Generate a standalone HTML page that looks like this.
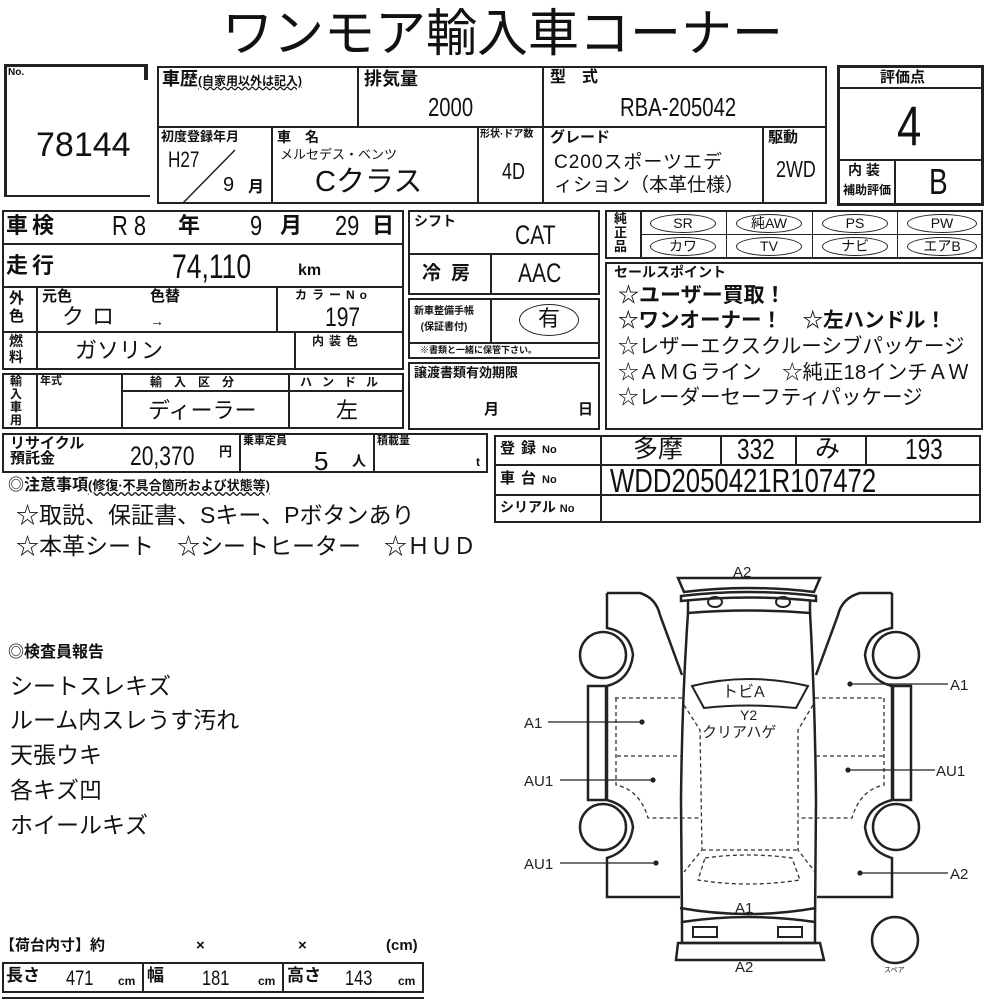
<!DOCTYPE html>
<html><head><meta charset="utf-8"><style>
*{margin:0;padding:0;box-sizing:border-box}
body{width:1000px;height:1000px;background:#fff;position:relative;overflow:hidden;font-family:"Liberation Sans","Noto Sans CJK JP",sans-serif;color:#111}
.b{position:absolute;border:2px solid #222}
.l{position:absolute;background:#222}
.t{position:absolute;white-space:nowrap;line-height:1}
.bd{font-weight:bold}
.n{transform:scaleX(.78);transform-origin:left top}
.ov{position:absolute;border:1.5px solid #222;border-radius:50%;text-align:center;font-size:14px;line-height:17px}
</style></head><body>
<div class="t" style="left:222px;top:8px;font-size:51px">ワンモア輸入車コーナー</div>

<!-- No bracket -->
<div class="l" style="left:4px;top:64px;width:3px;height:133px"></div>
<div class="l" style="left:4px;top:64px;width:144px;height:3px"></div>
<div class="l" style="left:144px;top:64px;width:4px;height:16px"></div>
<div class="l" style="left:4px;top:195px;width:146px;height:2px"></div>
<div class="t bd" style="left:8px;top:68px;font-size:10px">No.</div>
<div class="t" style="left:36px;top:128px;font-size:34px">78144</div>

<!-- top table -->
<div class="b" style="left:157px;top:66px;width:670px;height:62px"></div>
<div class="b" style="left:157px;top:126px;width:670px;height:78px"></div>
<div class="l" style="left:357px;top:66px;width:2px;height:60px"></div>
<div class="l" style="left:542px;top:66px;width:2px;height:138px"></div>
<div class="l" style="left:271px;top:126px;width:2px;height:78px"></div>
<div class="l" style="left:477px;top:126px;width:2px;height:78px"></div>
<div class="l" style="left:762px;top:126px;width:2px;height:78px"></div>
<div class="t bd" style="left:162px;top:70px;font-size:18px">車歴<span style="font-size:12px;text-decoration:underline wavy">(自家用以外は記入)</span></div>
<div class="t bd" style="left:364px;top:70px;font-size:18px">排気量</div>
<div class="t n" style="left:428px;top:94px;font-size:26px">2000</div>
<div class="t bd" style="left:550px;top:70px;font-size:16px">型　式</div>
<div class="t n" style="left:620px;top:94px;font-size:26px">RBA-205042</div>
<div class="t bd" style="left:161px;top:130px;font-size:13px">初度登録年月</div>
<div class="t n" style="left:168px;top:149px;font-size:22px">H27</div>
<svg style="position:absolute;left:180px;top:148px" width="60" height="56"><line x1="55" y1="2" x2="3" y2="55" stroke="#222" stroke-width="1.5"/></svg>
<div class="t" style="left:223px;top:175px;font-size:20px">9</div>
<div class="t bd" style="left:248px;top:180px;font-size:16px">月</div>
<div class="t bd" style="left:277px;top:130px;font-size:14px">車　名</div>
<div class="t" style="left:280px;top:148px;font-size:13px">メルセデス・ベンツ</div>
<div class="t" style="left:315px;top:168px;font-size:29px">Cクラス</div>
<div class="t bd" style="left:480px;top:130px;font-size:10px">形状·ドア数</div>
<div class="t n" style="left:502px;top:160px;font-size:23px">4D</div>
<div class="t bd" style="left:550px;top:130px;font-size:15px">グレード</div>
<div class="t" style="left:554px;top:153px;font-size:19px;letter-spacing:1px">C200スポーツエデ</div>
<div class="t" style="left:554px;top:176px;font-size:19px">ィション（本革仕様）</div>
<div class="t bd" style="left:768px;top:130px;font-size:15px">駆動</div>
<div class="t n" style="left:776px;top:158px;font-size:23px">2WD</div>

<!-- score -->
<div class="b" style="left:837px;top:65px;width:147px;height:141px;border-width:3px"></div>
<div class="l" style="left:837px;top:87px;width:147px;height:2px"></div>
<div class="l" style="left:837px;top:159px;width:147px;height:2px"></div>
<div class="l" style="left:894px;top:159px;width:2px;height:46px"></div>
<div class="t bd" style="left:880px;top:70px;font-size:15px">評価点</div>
<div class="t n" style="left:897px;top:98px;font-size:56px">4</div>
<div class="t bd" style="left:848px;top:163px;font-size:14px">内 装</div>
<div class="t bd" style="left:843px;top:184px;font-size:12px">補助評価</div>
<div class="t n" style="left:929px;top:164px;font-size:36px">B</div>

<!-- left table -->
<div class="b" style="left:2px;top:210px;width:402px;height:35px"></div>
<div class="t bd" style="left:6px;top:215px;font-size:22px;letter-spacing:4px">車検</div>
<div class="t n" style="left:112px;top:212px;font-size:28px">R 8</div>
<div class="t bd" style="left:178px;top:215px;font-size:22px">年</div>
<div class="t n" style="left:250px;top:212px;font-size:28px">9</div>
<div class="t bd" style="left:280px;top:215px;font-size:22px">月</div>
<div class="t n" style="left:335px;top:212px;font-size:28px">29</div>
<div class="t bd" style="left:372px;top:215px;font-size:22px">日</div>
<div class="b" style="left:2px;top:243px;width:402px;height:45px"></div>
<div class="t bd" style="left:6px;top:255px;font-size:22px;letter-spacing:4px">走行</div>
<div class="t n" style="left:172px;top:250px;font-size:34px">74,110</div>
<div class="t bd" style="left:298px;top:263px;font-size:16px">km</div>
<div class="b" style="left:2px;top:286px;width:402px;height:47px"></div>
<div class="l" style="left:36px;top:286px;width:2px;height:84px"></div>
<div class="l" style="left:276px;top:286px;width:2px;height:47px"></div>
<div class="t bd" style="left:9px;top:290px;font-size:15px;line-height:18px;width:18px">外<br>色</div>
<div class="t bd" style="left:42px;top:289px;font-size:15px">元色</div>
<div class="t bd" style="left:150px;top:289px;font-size:15px">色替</div>
<div class="t" style="left:62px;top:306px;font-size:22px;letter-spacing:8px">クロ</div>
<div class="t" style="left:150px;top:314px;font-size:14px">→</div>
<div class="t bd" style="left:295px;top:289px;font-size:12px;letter-spacing:5px">カラーNo</div>
<div class="t n" style="left:325px;top:304px;font-size:27px">197</div>
<div class="b" style="left:2px;top:331px;width:402px;height:39px"></div>
<div class="l" style="left:294px;top:331px;width:2px;height:39px"></div>
<div class="t bd" style="left:9px;top:333px;font-size:14px;line-height:16px">燃<br>料</div>
<div class="t" style="left:75px;top:340px;font-size:22px">ガソリン</div>
<div class="t bd" style="left:312px;top:335px;font-size:12px;letter-spacing:5px">内装色</div>
<div class="b" style="left:2px;top:373px;width:402px;height:56px"></div>
<div class="l" style="left:36px;top:373px;width:2px;height:56px"></div>
<div class="l" style="left:121px;top:373px;width:2px;height:56px"></div>
<div class="l" style="left:288px;top:373px;width:2px;height:56px"></div>
<div class="l" style="left:121px;top:390px;width:283px;height:2px"></div>
<div class="t bd" style="left:10px;top:375px;font-size:12px;line-height:13px">輸<br>入<br>車<br>用</div>
<div class="t bd" style="left:40px;top:376px;font-size:11px">年式</div>
<div class="t bd" style="left:150px;top:376px;font-size:12px;letter-spacing:12px">輸入区分</div>
<div class="t bd" style="left:300px;top:376px;font-size:12px;letter-spacing:10px">ハンドル</div>
<div class="t" style="left:148px;top:400px;font-size:22px">ディーラー</div>
<div class="t" style="left:336px;top:400px;font-size:22px">左</div>
<div class="b" style="left:2px;top:433px;width:486px;height:40px"></div>
<div class="l" style="left:239px;top:433px;width:2px;height:40px"></div>
<div class="l" style="left:373px;top:433px;width:2px;height:40px"></div>
<div class="t bd" style="left:10px;top:436px;font-size:15px;line-height:15px">リサイクル<br>預託金</div>
<div class="t n" style="left:130px;top:443px;font-size:27px">20,370</div>
<div class="t bd" style="left:219px;top:445px;font-size:13px">円</div>
<div class="t bd" style="left:243px;top:436px;font-size:11px">乗車定員</div>
<div class="t" style="left:314px;top:448px;font-size:26px">5</div>
<div class="t bd" style="left:352px;top:454px;font-size:14px">人</div>
<div class="t bd" style="left:377px;top:436px;font-size:11px">積載量</div>
<div class="t bd" style="left:476px;top:456px;font-size:12px">t</div>

<!-- middle column -->
<div class="b" style="left:408px;top:210px;width:192px;height:45px"></div>
<div class="t bd" style="left:414px;top:214px;font-size:14px">シフト</div>
<div class="t n" style="left:515px;top:222px;font-size:27px">CAT</div>
<div class="b" style="left:408px;top:253px;width:192px;height:42px"></div>
<div class="l" style="left:490px;top:253px;width:2px;height:42px"></div>
<div class="t bd" style="left:422px;top:264px;font-size:19px;letter-spacing:10px">冷房</div>
<div class="t n" style="left:518px;top:260px;font-size:27px">AAC</div>
<div class="b" style="left:408px;top:298px;width:192px;height:61px"></div>
<div class="l" style="left:490px;top:298px;width:2px;height:45px"></div>
<div class="l" style="left:408px;top:342px;width:192px;height:2px"></div>
<div class="t bd" style="left:414px;top:304px;font-size:10px;line-height:16px;text-align:center">新車整備手帳<br>(保証書付)</div>
<div class="ov" style="left:519px;top:304px;width:60px;height:32px;font-size:22px;line-height:28px">有</div>
<div class="t bd" style="left:420px;top:346px;font-size:9px">※書類と一緒に保管下さい。</div>
<div class="b" style="left:408px;top:362px;width:192px;height:68px"></div>
<div class="t bd" style="left:414px;top:366px;font-size:13px">譲渡書類有効期限</div>
<div class="t bd" style="left:484px;top:402px;font-size:15px">月</div>
<div class="t bd" style="left:578px;top:402px;font-size:15px">日</div>

<!-- options -->
<div class="b" style="left:605px;top:210px;width:378px;height:49px"></div>
<div class="l" style="left:640px;top:210px;width:2px;height:49px"></div>
<div class="l" style="left:640px;top:234px;width:343px;height:1px"></div>
<div class="l" style="left:726px;top:210px;width:1px;height:49px"></div>
<div class="l" style="left:812px;top:210px;width:1px;height:49px"></div>
<div class="l" style="left:897px;top:210px;width:1px;height:49px"></div>
<div class="t bd" style="left:614px;top:212px;font-size:13px;line-height:14px">純<br>正<br>品</div>
<div class="ov" style="left:650px;top:214px;width:66px;height:19px">SR</div>
<div class="ov" style="left:736px;top:214px;width:66px;height:19px">純AW</div>
<div class="ov" style="left:822px;top:214px;width:66px;height:19px">PS</div>
<div class="ov" style="left:907px;top:214px;width:70px;height:19px">PW</div>
<div class="ov" style="left:650px;top:237px;width:66px;height:19px">カワ</div>
<div class="ov" style="left:736px;top:237px;width:66px;height:19px">TV</div>
<div class="ov" style="left:822px;top:237px;width:66px;height:19px">ナビ</div>
<div class="ov" style="left:907px;top:237px;width:70px;height:19px">エアB</div>
<div class="b" style="left:605px;top:262px;width:378px;height:168px"></div>
<div class="t bd" style="left:614px;top:265px;font-size:14px">セールスポイント</div>
<div class="t bd" style="left:618px;top:285px;font-size:21px">☆ユーザー買取！</div>
<div class="t bd" style="left:618px;top:311px;font-size:20.5px">☆ワンオーナー！　☆左ハンドル！</div>
<div class="t" style="left:618px;top:337px;font-size:20.5px">☆レザーエクスクルーシブパッケージ</div>
<div class="t" style="left:618px;top:363px;font-size:20.5px">☆ＡＭＧライン　☆純正18インチＡＷ</div>
<div class="t" style="left:618px;top:388px;font-size:20.5px">☆レーダーセーフティパッケージ</div>

<!-- registration -->
<div class="b" style="left:494px;top:435px;width:487px;height:88px"></div>
<div class="l" style="left:494px;top:464px;width:487px;height:2px"></div>
<div class="l" style="left:494px;top:494px;width:487px;height:2px"></div>
<div class="l" style="left:600px;top:435px;width:2px;height:88px"></div>
<div class="l" style="left:720px;top:435px;width:2px;height:30px"></div>
<div class="l" style="left:795px;top:435px;width:2px;height:30px"></div>
<div class="l" style="left:865px;top:435px;width:2px;height:30px"></div>
<div class="t bd" style="left:500px;top:441px;font-size:15px;letter-spacing:6px">登録<span style="font-size:11px;letter-spacing:0">No</span></div>
<div class="t bd" style="left:500px;top:471px;font-size:15px;letter-spacing:6px">車台<span style="font-size:11px;letter-spacing:0">No</span></div>
<div class="t bd" style="left:500px;top:500px;font-size:14px">シリアル <span style="font-size:11px">No</span></div>
<div class="t" style="left:633px;top:437px;font-size:25px">多摩</div>
<div class="t n" style="left:737px;top:436px;font-size:29px">332</div>
<div class="t" style="left:815px;top:437px;font-size:25px">み</div>
<div class="t n" style="left:905px;top:436px;font-size:29px">193</div>
<div class="t n" style="left:610px;top:464px;font-size:33px">WDD2050421R107472</div>

<!-- notes -->
<div class="t bd" style="left:8px;top:478px;font-size:16px">◎注意事項<span style="font-size:13px;text-decoration:underline wavy">(修復·不具合箇所および状態等)</span></div>
<div class="t" style="left:16px;top:504px;font-size:23px">☆取説、保証書、Sキー、Pボタンあり</div>
<div class="t" style="left:16px;top:535px;font-size:23px">☆本革シート　☆シートヒーター　☆ＨＵＤ</div>
<div class="t bd" style="left:8px;top:645px;font-size:16px">◎検査員報告</div>
<div class="t" style="left:10px;top:675px;font-size:23px">シートスレキズ</div>
<div class="t" style="left:10px;top:709px;font-size:23px">ルーム内スレうす汚れ</div>
<div class="t" style="left:10px;top:744px;font-size:23px">天張ウキ</div>
<div class="t" style="left:10px;top:779px;font-size:23px">各キズ凹</div>
<div class="t" style="left:10px;top:814px;font-size:23px">ホイールキズ</div>

<!-- bottom -->
<div class="t bd" style="left:0px;top:938px;font-size:15px">【荷台内寸】約</div>
<div class="t bd" style="left:196px;top:938px;font-size:15px">×</div>
<div class="t bd" style="left:298px;top:938px;font-size:15px">×</div>
<div class="t bd" style="left:386px;top:938px;font-size:15px">(cm)</div>
<div class="b" style="left:2px;top:962px;width:422px;height:31px"></div>
<div class="l" style="left:142px;top:962px;width:2px;height:31px"></div>
<div class="l" style="left:282px;top:962px;width:2px;height:31px"></div>
<div class="t bd" style="left:6px;top:967px;font-size:17px">長さ</div>
<div class="t n" style="left:66px;top:968px;font-size:21px">471</div>
<div class="t bd" style="left:118px;top:975px;font-size:12px">cm</div>
<div class="t bd" style="left:147px;top:967px;font-size:17px">幅</div>
<div class="t n" style="left:202px;top:968px;font-size:21px">181</div>
<div class="t bd" style="left:258px;top:975px;font-size:12px">cm</div>
<div class="t bd" style="left:287px;top:967px;font-size:17px">高さ</div>
<div class="t n" style="left:345px;top:968px;font-size:21px">143</div>
<div class="t bd" style="left:398px;top:975px;font-size:12px">cm</div>
<div class="l" style="left:2px;top:997px;width:422px;height:2px"></div>

<!-- car diagram -->
<svg style="position:absolute;left:0;top:0" width="1000" height="1000" font-family="Liberation Sans, Noto Sans CJK JP, sans-serif">
<g fill="none" stroke="#222" stroke-width="2.5">
<path d="M678 578 L820 578 L814 592 Q748 584 684 592 Z"/>
<path d="M681 596 Q748 588 816 596 L816 601 Q748 594 681 601 Z"/>
<path d="M688 600 L688 613 Q748 608 810 613 L810 600"/>
<path d="M688 613 Q682 700 681 800 L682 922 Q748 912 815 922 L816 800 Q815 700 810 613"/>
<path d="M682 922 L682 943 L815 943 L815 922"/>
<path d="M678 943 L820 943 L824 960 L676 960 Z"/>
<path d="M680 908 Q748 920 816 908"/>
<path d="M607 593 L640 593 Q656 598 660 615 L682 675 M607 593 L607 628 Q630 632 633 655 Q630 680 607 686 M607 686 L607 800 M607 800 Q630 806 633 827 Q630 851 607 858 L607 897 L680 897"/>
<rect x="588" y="686" width="18" height="114"/>
<circle cx="603" cy="655" r="23"/><circle cx="603" cy="827" r="23"/>
<path d="M892 593 L860 593 Q842 598 838 615 L816 675 M892 593 L892 628 Q868 632 865 655 Q868 680 892 686 M892 686 L892 800 M892 800 Q868 806 865 827 Q868 851 892 858 L892 897 L817 897"/>
<rect x="893" y="686" width="18" height="114"/>
<circle cx="896" cy="655" r="23"/><circle cx="896" cy="827" r="23"/>
<circle cx="895" cy="940" r="23"/>
</g>
<g fill="none" stroke="#222" stroke-width="2">
<ellipse cx="715" cy="602" rx="7" ry="5"/><ellipse cx="783" cy="602" rx="7" ry="5"/>
<path d="M692 686 Q748 672 808 686 L796 708 Q748 703 704 708 Z"/>
<rect x="693" y="927" width="24" height="10"/><rect x="778" y="927" width="24" height="10"/>
</g>
<g fill="none" stroke="#333" stroke-width="1.3" stroke-dasharray="4 3">
<path d="M615 698 L682 698 M616 698 L616 785 Q640 790 648 818 L700 818 M617 756 L682 756"/>
<path d="M882 698 L815 698 M884 698 L884 785 Q860 790 852 818 L798 818 M883 756 L815 756"/>
<path d="M684 705 L700 730 L702 850 L684 872 M813 705 L798 730 L798 850 L815 872"/>
<path d="M702 850 L798 850 M705 858 Q748 852 792 858 L800 880 Q748 888 698 880 Z"/>
</g>
<g stroke="#222" stroke-width="1.2" fill="#222">
<line x1="548" y1="722" x2="642" y2="722"/><circle cx="642" cy="722" r="2"/>
<line x1="560" y1="780" x2="653" y2="780"/><circle cx="653" cy="780" r="2"/>
<line x1="560" y1="863" x2="656" y2="863"/><circle cx="656" cy="863" r="2"/>
<line x1="850" y1="684" x2="948" y2="684"/><circle cx="850" cy="684" r="2"/>
<line x1="848" y1="770" x2="935" y2="770"/><circle cx="848" cy="770" r="2"/>
<line x1="860" y1="873" x2="948" y2="873"/><circle cx="860" cy="873" r="2"/>
</g>
<g font-size="15" fill="#222">
<text x="733" y="577">A2</text>
<text x="950" y="690">A1</text>
<text x="524" y="728">A1</text>
<text x="524" y="786">AU1</text>
<text x="936" y="776">AU1</text>
<text x="524" y="869">AU1</text>
<text x="950" y="879">A2</text>
<text x="735" y="913">A1</text>
<text x="735" y="972">A2</text>
<text x="722" y="697" font-size="16">トビA</text>
<text x="740" y="720" font-size="14">Y2</text>
<text x="702" y="737" font-size="15">クリアハゲ</text>
<text x="884" y="972" font-size="7">スペア</text>
</g>
</svg>
</body></html>
